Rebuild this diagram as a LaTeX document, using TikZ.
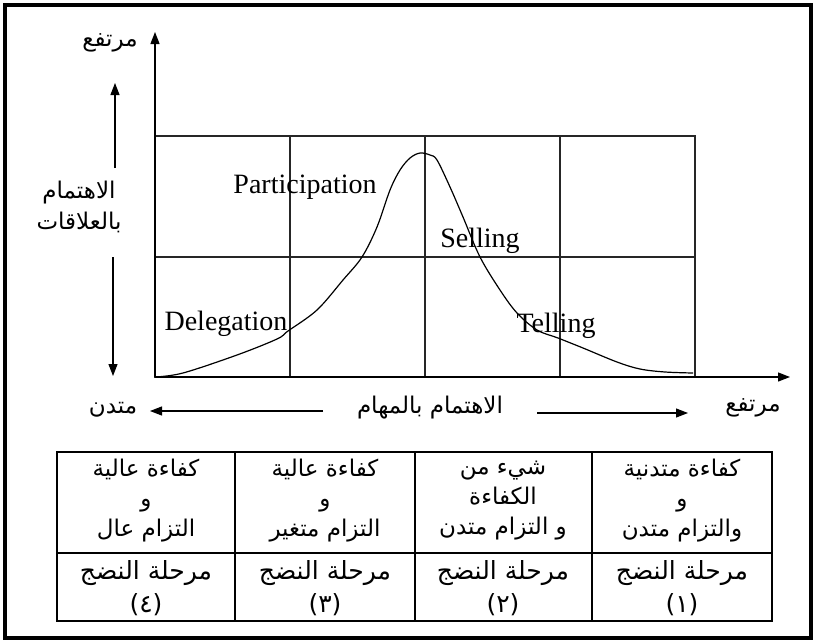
\documentclass[tikz,border=0pt]{standalone}
\usepackage{fontspec}
\setmainfont{Liberation Serif}
\newfontfamily\arabicfont[Script=Arabic]{DejaVu Sans}
\TeXXeTstate=1
\usepackage{tikz}
\usetikzlibrary{
  arrows.meta,
  positioning
}
\newcommand{\rl}[1]{\beginR #1\endR}

\begin{document}
\begin{tikzpicture}[x=1pt, y=-1pt,
  frame/.style={line width=4pt},
  gridline/.style={line width=1.3pt, color=black!85},
  axis/.style={line width=1.3pt, -{Triangle[length=12pt, width=9pt]}},
  arr/.style={line width=1.1pt, -{Triangle[length=12pt, width=9pt]}},
  curve/.style={line width=1.2pt},
  stylelab/.style={font=\fontsize{28}{30}\selectfont, anchor=base, inner sep=0pt},
  artext/.style={font=\arabicfont\fontsize{23}{31}\selectfont, align=center, inner sep=0pt},
  celltext/.style={font=\arabicfont\fontsize{23}{30}\selectfont, align=center, inner sep=0pt},
  cell/.style={line width=1.2pt}
]
  \useasboundingbox (0,0) rectangle (816,643);
  \draw[frame] (5,5) rectangle (811,638);

  \coordinate (o)    at (155,377);
  \coordinate (ytop) at (155,32);
  \coordinate (xend) at (790,377);

  \draw[gridline] (155,136) rectangle (695,377);
  \foreach \x in {290,425,560}{
    \draw[gridline] (\x,136) -- (\x,377);
  }
  \draw[gridline] (155,257) -- (695,257);

  \draw[axis] (o) -- (ytop);
  \draw[axis] (o) -- (xend);

  \draw[curve] plot[smooth, tension=0.55] coordinates {
    (155,377) (183,373) (237,355) (277,339) (288,331) (317,310) (343,280)
    (362,257) (377,227) (390,190) (400,170) (410,158) (420,153) (430,155)
    (437,160) (450,187) (463,217) (480,257) (500,290) (517,313) (537,330)
    (558,338) (583,348) (617,362) (640,369) (665,372) (693,373)};

  \node[stylelab] (part) at (305,193) {Participation};
  \node[stylelab] (sell) at (480,247) {Selling};
  \node[stylelab] (dele) at (226,330) {Delegation};
  \node[stylelab] (tell) at (556,332) {Telling};

  \node[artext] (high)  at (110,43)  {\rl{مرتفع}};
  \node[artext] (rel)   at (79,207)  {\rl{الاهتمام}\\\rl{بالعلاقات}};
  \coordinate (r1) at (115,168);
  \coordinate (r2) at (115,83);
  \coordinate (r3) at (113,257);
  \coordinate (r4) at (113,376);
  \draw[arr] (r1) -- (r2);
  \draw[arr] (r3) -- (r4);

  \node[artext] (low)   at (113,410) {\rl{متدن}};
  \node[artext] (task)  at (430,408) {\rl{الاهتمام بالمهام}};
  \node[artext] (hightask) at (753,408) {\rl{مرتفع}};
  \coordinate (t1) at (323,411);
  \coordinate (t2) at (150,411);
  \coordinate (t3) at (537,413);
  \coordinate (t4) at (688,413);
  \draw[arr] (t1) -- (t2);
  \draw[arr] (t3) -- (t4);

  \draw[cell] (57,452) rectangle (772,621);
  \draw[cell] (57,553) -- (772,553);
  \foreach \x in {235,415,592}{
    \draw[cell] (\x,452) -- (\x,621);
  }

  \node[celltext] (c4) at (146,501) {\rl{كفاءة عالية}\\\rl{و}\\\rl{التزام عال}};
  \node[celltext] (c3) at (325,501) {\rl{كفاءة عالية}\\\rl{و}\\\rl{التزام متغير}};
  \node[celltext] (c2) at (503,501) {\rl{شيء من}\\\rl{الكفاءة}\\\rl{و التزام متدن}};
  \node[celltext] (c1) at (682,501) {\rl{كفاءة متدنية}\\\rl{و}\\\rl{والتزام متدن}};

  \foreach \x/\d/\n in {146/٤/m4, 325/٣/m3, 503/٢/m2, 682/١/m1}{
    \node[celltext, font=\arabicfont\fontsize{25}{33}\selectfont] (\n) at (\x,588) {\rl{مرحلة النضج}\\(\d)};
  }
\end{tikzpicture}
\end{document}
